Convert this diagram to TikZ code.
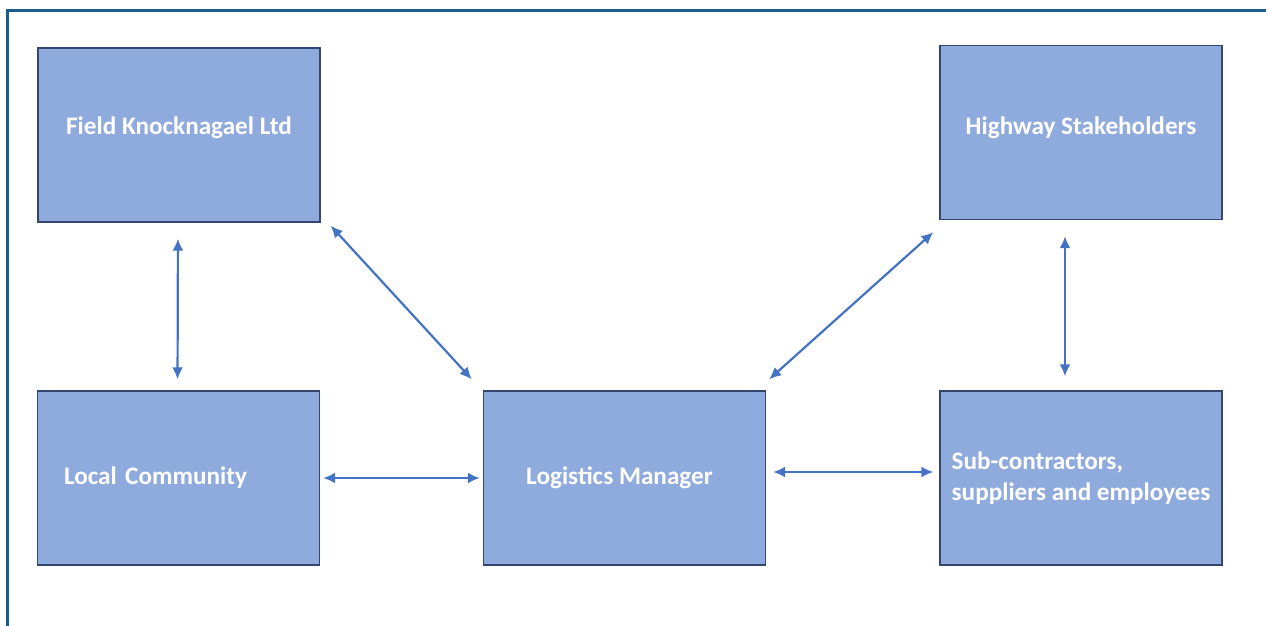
\documentclass[tikz,border=0pt]{standalone}
\usepackage{fontspec}
\setmainfont{Carlito}
\usetikzlibrary{arrows.meta}
\definecolor{boxfill}{HTML}{8FAADC}
\definecolor{boxline}{HTML}{34466F}
\definecolor{arrowc}{HTML}{4472C4}
\definecolor{framec}{HTML}{185F8E}
\begin{document}
\begin{tikzpicture}[x=0.5pt,y=-0.5pt,
  box/.style={draw=boxline,line width=0.7pt,fill=boxfill,minimum width=141pt,minimum height=87pt,
    text=white,font=\bfseries\fontsize{12.6}{15.5}\selectfont,inner sep=0pt,align=left},
  link/.style={draw=arrowc,line width=1.1pt,{Latex[length=6pt,width=5.5pt]}-{Latex[length=6pt,width=5.5pt]}}]
\useasboundingbox (0,0) rectangle (1266,626);
\fill[white] (0,0) rectangle (1266,626);
\draw[framec,line width=1.5pt] (7.5,626) -- (7.5,10.5) -- (1266,10.5);
\node[box,text depth=9.5pt] (fk) at (179,135) {Field Knocknagael Ltd};
\node[box,text depth=6.5pt] (hs) at (1081,132.5) {Highway Stakeholders};
\node[box,text width=114.5pt,inner xsep=13pt] (lc) at (178.5,478) {Local Community};
\node[box] (lm) at (624.5,478) {Logistics Manager\hspace*{5pt}};
\node[box] (sc) at (1081,478) {Sub-contractors,\\suppliers and employees};
\draw[link,shorten <=8pt,shorten >=5.5pt] ([xshift=-0.5pt]fk.south) -- ([xshift=-0.5pt]lc.north);
\draw[link,shorten <=8pt,shorten >=7pt] ([xshift=-8pt]hs.south) -- ([xshift=-8pt]sc.north);
\draw[link] ([xshift=5pt,yshift=-1.5pt]fk.south east) -- ([xshift=-5.5pt,yshift=5.5pt]lm.north west);
\draw[link] ([xshift=-3pt,yshift=-6pt]hs.south west) -- ([xshift=1.5pt,yshift=5.5pt]lm.north east);
\draw[link,shorten <=1.5pt,shorten >=1.5pt] (lc.east) -- (lm.west);
\draw[link,shorten <=3.5pt,shorten >=3pt] ([yshift=3pt]lm.east) -- ([yshift=3pt]sc.west);
\end{tikzpicture}
\end{document}
